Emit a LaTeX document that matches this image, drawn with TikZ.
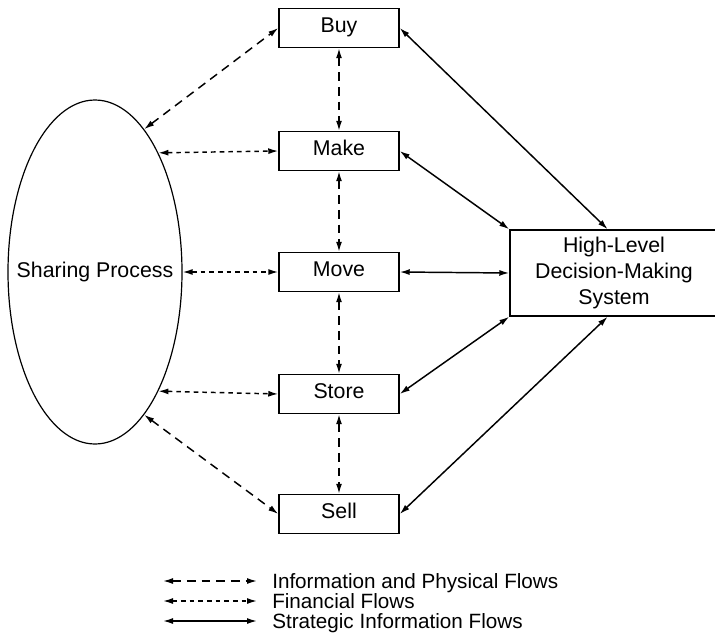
\documentclass[tikz,border=0pt]{standalone}
\usepackage{fontspec}
\setmainfont{Liberation Sans}
\usetikzlibrary{arrows.meta,shapes.geometric,calc}
\begin{document}
\begin{tikzpicture}[x=0.75pt,y=-0.75pt,
  font=\fontsize{16}{19.5}\selectfont,
  >={Latex[length=7.5pt,width=4.5pt]},
  stage/.style={draw,line width=1.1pt,minimum width=90pt,minimum height=29.25pt,
    inner sep=0pt,text height=0.72em,text depth=0pt},
  flowline/.style={line width=1.1pt,<->},
  physflow/.style={flowline,dash pattern=on 6.5pt off 4.5pt},
  finflow/.style={flowline,dash pattern=on 3.5pt off 3pt},
  stratflow/.style={flowline},
  legendtext/.style={anchor=base west,inner sep=0pt,font=\fontsize{15.5}{18}\selectfont}]
  \useasboundingbox (0,0) rectangle (715,643);

  % sharing process
  \node[draw,ellipse,line width=0.9pt,minimum width=130.5pt,minimum height=258pt,inner sep=0pt]
    (sp) at (95,272) {};
  \node (splabel) at (sp.center) {Sharing Process};

  % functional stages
  \node[stage] (buy)   at (339,28)  {Buy};
  \node[stage] (make)  at (339,151) {Make};
  \node[stage] (move)  at (339,272) {Move};
  \node[stage] (store) at (339,394) {Store};
  \node[stage] (sell)  at (339,514) {Sell};

  % decision system
  \node[draw,line width=1.1pt,minimum width=156pt,minimum height=64.5pt,align=center,inner sep=0pt]
    (hl) at (614,273) {High-Level\\Decision-Making\\System};
  \coordinate (hltop) at ($(hl.north west)!0.47!(hl.north east)$);
  \coordinate (hlbot) at ($(hl.south west)!0.47!(hl.south east)$);

  % information and physical flows along the chain
  \draw[physflow] (buy) -- (make);
  \draw[physflow] (make) -- (move);
  \draw[physflow] (move) -- (store);
  \draw[physflow] (store) -- (sell);
  \draw[physflow] (sp.71.6) -- (buy.west);
  \draw[physflow] (sp.-71.6) -- (sell.west);

  % financial flows
  \draw[finflow] (sp.62.9) -- (make.west);
  \draw[finflow] (sp.east) -- (move.west);
  \draw[finflow] (sp.-62.9) -- (store.west);

  % strategic information flows
  \draw[stratflow] (buy.east) -- (hltop);
  \draw[stratflow] (make.east) -- (hl.north west);
  \draw[stratflow] (move.east) -- (hl.west);
  \draw[stratflow] (store.east) -- (hl.south west);
  \draw[stratflow] (sell.east) -- (hlbot);

  % legend
  \coordinate (la1) at (163,581);  \coordinate (lb1) at (257,581);
  \coordinate (la2) at (163,601);  \coordinate (lb2) at (257,601);
  \coordinate (la3) at (163,621);  \coordinate (lb3) at (257,621);
  \draw[physflow] (la1) -- (lb1);
  \draw[finflow] (la2) -- (lb2);
  \draw[stratflow] (la3) -- (lb3);
  \node[legendtext] (lt1) at (272,588) {Information and Physical Flows};
  \node[legendtext] (lt2) at (272,608) {Financial Flows};
  \node[legendtext] (lt3) at (272,628) {Strategic Information Flows};
\end{tikzpicture}
\end{document}
